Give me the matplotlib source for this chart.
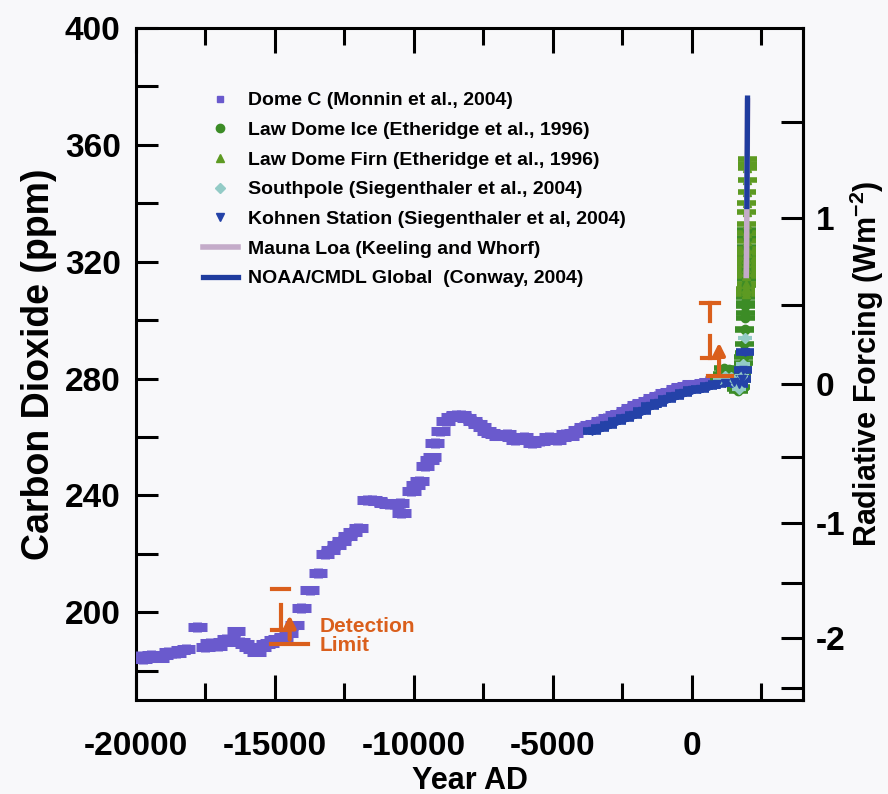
import numpy as np
import matplotlib
matplotlib.use("Agg")
import matplotlib.pyplot as plt
from matplotlib.ticker import MultipleLocator, FixedLocator

plt.rcParams['font.family'] = ['Liberation Sans', 'DejaVu Sans']
plt.rcParams['font.weight'] = 'bold'
plt.rcParams['axes.unicode_minus'] = False
plt.rcParams['mathtext.fontset'] = 'custom'
plt.rcParams['mathtext.rm'] = 'Liberation Sans:bold'
plt.rcParams['mathtext.default'] = 'rm'

# ---------------- data ----------------
# Dome C (Monnin et al., 2004): year AD, CO2 ppm
domec_year = [-19900, -19750, -19600, -19450, -19300, -19150, -19000, -18850, -18700,
              -18550, -18400, -18200, -17800, -17500, -17350, -17200, -17050, -16900,
              -16750, -16600, -16400, -16250, -16100, -15950, -15800, -15650, -15500,
              -15350, -15200, -15050, -14900, -14700, -14500, -14300, -14050, -13750,
              -13450, -13200, -13000, -12800, -12600, -12400, -12200, -12000, -11700,
              -11500, -11300, -11100, -10900, -10700, -10500, -10450, -10100, -9950,
              -9800, -9600, -9450, -9350, -9250, -9050, -8850, -8700, -8500, -8300,
              -8100, -7900, -7700, -7550, -7400, -7250, -7100, -6950, -6800, -6650,
              -6500, -6350, -6200, -6050, -5900, -5750, -5600, -5450, -5300, -5150,
              -5000, -4850, -4700, -4550, -4400, -4250, -4100, -3900, -3700, -3500,
              -3300, -3050, -2800, -2600, -2400, -2200, -2000, -1800, -1600, -1400,
              -1200, -1000, -800, -600, -400, -200, 0, 200, 400, 600, 800, 1000,
              1200, 1350, 1500]
domec_co2 = [185.0, 184.0, 184.5, 185.5, 185.0, 184.5, 185.5, 186.5, 186.0,
             186.0, 187.0, 187.5, 195.0, 188.0, 189.5, 189.0, 188.5, 190.0,
             191.0, 190.5, 193.5, 190.0, 189.0, 188.0, 187.5, 186.5, 188.0,
             189.0, 189.5, 190.5, 191.0, 191.5, 193.0, 195.5, 201.5, 207.5,
             213.5, 220.0, 221.5, 223.0, 224.5, 226.0, 227.5, 229.0, 238.5,
             238.5, 238.0, 237.5, 237.0, 237.0, 237.5, 234.0, 241.5, 243.5,
             245.0, 250.0, 252.0, 253.0, 258.0, 262.0, 265.5, 267.0, 267.5, 267.5,
             266.5, 265.5, 264.5, 263.5, 262.0, 261.5, 261.0, 260.5, 260.5, 261.0,
             260.0, 259.0, 259.5, 260.0, 259.0, 258.0, 258.5, 258.5, 259.0, 260.0,
             259.5, 259.0, 260.0, 261.0, 260.5, 261.5, 262.5, 263.5, 264.0, 264.5,
             265.5, 266.5, 267.5, 268.0, 269.0, 270.0, 271.0, 271.5, 272.5, 273.5,
             274.0, 275.0, 275.5, 276.5, 277.0, 277.5, 278.0, 278.0, 278.5, 279.0,
             279.5, 280.0, 280.0, 280.5, 280.5]

# Kohnen Station (Siegenthaler et al., 2004)
kohnen_year = [-3600, -3300, -3000, -2700, -2400, -2100, -1800, -1500, -1200, -900,
               -600, -300, 0, 300, 600, 900, 1200, 1500, 1700, 1800, 1850, 1900]
kohnen_co2 = [262.0, 263.0, 264.0, 265.5, 266.5, 267.5, 269.0, 270.5, 271.5, 273.0,
              274.0, 275.0, 276.0, 276.5, 277.5, 278.0, 278.5, 279.0, 278.0, 280.0,
              283.0, 289.0]

# Southpole (Siegenthaler et al., 2004)
southpole_year = [1000, 1200, 1400, 1600, 1700, 1800, 1850, 1900]
southpole_co2 = [280.0, 281.0, 280.5, 278.0, 276.5, 281.0, 285.0, 294.0]

# Law Dome ice cores (Etheridge et al., 1996)
lawice_year = [1006, 1046, 1096, 1146, 1196, 1246, 1327, 1387, 1446, 1465, 1499, 1527,
               1547, 1570, 1589, 1604, 1647, 1679, 1692, 1720, 1747, 1777, 1794, 1804,
               1813, 1834, 1850, 1869, 1877, 1887, 1901, 1905, 1915, 1920, 1924, 1930,
               1936, 1940, 1945, 1953, 1956, 1960, 1962, 1965, 1968, 1970, 1974, 1978]
lawice_co2 = [279.4, 280.3, 281.7, 283.8, 283.1, 281.9, 283.2, 280.0, 281.7, 279.6, 282.4,
              282.1, 282.6, 280.2, 277.5, 276.4, 277.3, 275.9, 276.4, 276.7, 277.2, 279.5,
              281.6, 282.9, 283.8, 283.2, 285.2, 287.4, 288.8, 291.9, 296.5, 296.9, 300.7,
              302.5, 304.7, 306.0, 307.8, 309.0, 310.3, 311.9, 314.0, 316.7, 318.0, 319.4,
              322.0, 325.2, 328.0, 331.0]

# Law Dome firn air (Etheridge et al., 1996)
lawfirn_year = [1939, 1942, 1946, 1950, 1954, 1958, 1960, 1962, 1964, 1966, 1968, 1970,
                1972, 1975, 1977, 1980, 1982, 1985, 1987, 1990, 1991, 1993]
lawfirn_co2 = [309.0, 310.0, 310.5, 311.0, 312.5, 315.0, 316.5, 318.0, 319.5, 321.0,
               323.0, 324.5, 327.0, 330.0, 333.0, 337.0, 340.0, 344.0, 348.0, 352.0,
               353.5, 355.0]

# Mauna Loa (Keeling and Whorf)
maunaloa_year = [1958, 1965, 1970, 1975, 1980, 1985, 1990, 1995, 2000, 2003]
maunaloa_co2 = [315.3, 320.0, 325.7, 331.1, 338.7, 346.0, 354.4, 360.9, 369.5, 375.0]

# NOAA/CMDL global (Conway, 2004)
noaa_year = [1980, 1985, 1990, 1995, 2000, 2004]
noaa_co2 = [338.9, 345.5, 353.9, 360.0, 368.8, 376.0]

# age and concentration uncertainties drawn as bars
domec_xerr, domec_yerr = 340, 1.6
kohnen_xerr, kohnen_yerr = 320, 1.4
lawdome_xerr, lawdome_yerr = 340, 1.0

# detection limit glyphs: stem year, bar levels (ppm)
dl_year = [-14800, 650]
dl_cap = [207.9, 306.0]
dl_cap_stem_end = [207.9, 299.8]
dl_stem_top = [202.4, 294.7]
dl_stem_bot = [193.9, 287.2]
dl_arrow_from = [189.7, 280.9]
dl_arrow_to = [200.0, 293.3]
dl_base = [189.1, 281.0]
dl_base_left = [-15137, 574]
dl_base_right = [-13810, 1435]

# radiative forcing relative to 278 ppm
C0 = 278.0

def to_forcing(c):
    return 5.35 * np.log(np.clip(c, 1e-6, None) / C0)

def to_co2(f):
    return C0 * np.exp(np.asarray(f) / 5.35)

# ---------------- figure ----------------
bg = '#f8f8fa'
fig = plt.figure(figsize=(8.88, 7.94), dpi=100, facecolor=bg)
ax = fig.add_axes([136 / 888, 1 - 700 / 794, (803 - 136) / 888, (700 - 28) / 794])
ax.set_facecolor(bg)

purple = '#6a5acd'
kblue = '#2442a8'
green_ice = '#3c8c26'
green_firn = '#5d9a22'
spole = '#93cbc6'
mlgray = '#c4abc9'
noaa_blue = '#1f3c9e'
orange = '#da5f1c'

h_domec = ax.errorbar(domec_year, domec_co2, xerr=domec_xerr, yerr=domec_yerr, fmt='s',
                      ms=5, color=purple, ecolor=purple, elinewidth=6.5, capsize=0, zorder=3)
h_ice = ax.errorbar(lawice_year, lawice_co2, xerr=lawdome_xerr, yerr=lawdome_yerr, fmt='o',
                    ms=6, color=green_ice, ecolor=green_ice, elinewidth=4, capsize=0, zorder=4)
h_firn = ax.errorbar(lawfirn_year, lawfirn_co2, xerr=lawdome_xerr, yerr=lawdome_yerr, fmt='^',
                     ms=6, color=green_firn, ecolor=green_firn, elinewidth=4, capsize=0, zorder=4)
h_spole = ax.errorbar(southpole_year, southpole_co2, xerr=250, fmt='D', ms=5,
                      color=spole, ecolor=spole, elinewidth=3, capsize=0, zorder=5)
h_kohnen = ax.errorbar(kohnen_year, kohnen_co2, xerr=kohnen_xerr, yerr=kohnen_yerr, fmt='v',
                       ms=6, color=kblue, ecolor=kblue, elinewidth=5.5, capsize=0, zorder=5)
h_ml, = ax.plot(maunaloa_year, maunaloa_co2, color=mlgray, lw=4, zorder=6)
h_noaa, = ax.plot(noaa_year, noaa_co2, color=noaa_blue, lw=3.8, zorder=7)

# detection limit glyphs
for i in range(len(dl_year)):
    x = dl_year[i]
    ax.plot([x - 320, x + 320], [dl_cap[i], dl_cap[i]], color=orange, lw=3, zorder=8)
    ax.plot([x, x], [dl_cap[i], dl_cap_stem_end[i]], color=orange, lw=3, zorder=8)
    ax.plot([x, x], [dl_stem_top[i], dl_stem_bot[i]], color=orange, lw=3, zorder=8)
    ax.plot([x - 300, x + 300], [dl_stem_bot[i], dl_stem_bot[i]], color=orange, lw=3, zorder=8)
    ax.plot([dl_base_left[i], dl_base_right[i]], [dl_base[i], dl_base[i]], color=orange,
            lw=3, zorder=8)
    ax.annotate('', xy=(x + 330, dl_arrow_to[i]), xytext=(x + 330, dl_arrow_from[i]),
                arrowprops=dict(arrowstyle='-|>,head_length=0.7,head_width=0.35',
                                color=orange, lw=3), zorder=9)
ax.text(-13400, 195.0, 'Detection', color=orange, fontsize=15, fontweight='bold',
        ha='left', va='center', zorder=9)
ax.text(-13400, 188.6, 'Limit', color=orange, fontsize=15, fontweight='bold',
        ha='left', va='center', zorder=9)

# axes
ax.set_xlim(-20000, 4000)
ax.set_ylim(170, 400)
ax.xaxis.set_major_locator(FixedLocator([-20000, -15000, -10000, -5000, 0]))
ax.xaxis.set_minor_locator(FixedLocator([-17500, -12500, -7500, -2500, 2500]))
ax.yaxis.set_major_locator(MultipleLocator(40))
ax.yaxis.set_minor_locator(MultipleLocator(20))
ax.tick_params(axis='both', which='both', direction='in', width=2.2, colors='black',
               labelsize=24, top=True, right=False)
ax.tick_params(axis='x', which='major', length=18, pad=22)
ax.tick_params(axis='x', which='minor', length=12)
ax.tick_params(axis='y', which='major', length=16, pad=11)
ax.tick_params(axis='y', which='minor', length=16)
for lab in ax.get_xticklabels() + ax.get_yticklabels():
    lab.set_fontweight('bold')
for sp in ax.spines.values():
    sp.set_linewidth(2.2)

ax.set_xlabel('Year AD', fontsize=22, fontweight='bold', labelpad=3)
ax.set_ylabel('Carbon Dioxide (ppm)', fontsize=27, fontweight='bold', labelpad=6)

sec = ax.secondary_yaxis('right', functions=(to_forcing, to_co2))
sec.yaxis.set_major_locator(FixedLocator([-2, -1, 0, 1]))
sec.yaxis.set_minor_locator(FixedLocator([-2.5, -1.5, -0.5, 0.5, 1.5]))
sec.tick_params(axis='y', which='both', direction='in', width=2.2, labelsize=24)
sec.tick_params(axis='y', which='major', length=16, pad=9)
sec.tick_params(axis='y', which='minor', length=16)
for lab in sec.get_yticklabels():
    lab.set_fontweight('bold')
sec.spines['right'].set_linewidth(2.2)
sec.set_ylabel('Radiative Forcing (Wm$^{-2}$)', fontsize=22, fontweight='bold', labelpad=2)

handles = [h_domec[0], h_ice[0], h_firn[0], h_spole[0], h_kohnen[0], h_ml, h_noaa]
labels = ['Dome C (Monnin et al., 2004)',
          'Law Dome Ice (Etheridge et al., 1996)',
          'Law Dome Firn (Etheridge et al., 1996)',
          'Southpole (Siegenthaler et al., 2004)',
          'Kohnen Station (Siegenthaler et al, 2004)',
          'Mauna Loa (Keeling and Whorf)',
          'NOAA/CMDL Global  (Conway, 2004)']
leg = ax.legend(handles, labels, loc='upper left', bbox_to_anchor=(195 / 888, 1 - 84 / 794),
                bbox_transform=fig.transFigure, frameon=False, fontsize=14,
                handlelength=1.8, handletextpad=0.55, labelspacing=0.62, borderaxespad=0)
for t in leg.get_texts():
    t.set_fontweight('bold')

fig.savefig('out.png', dpi=100, facecolor=bg)
